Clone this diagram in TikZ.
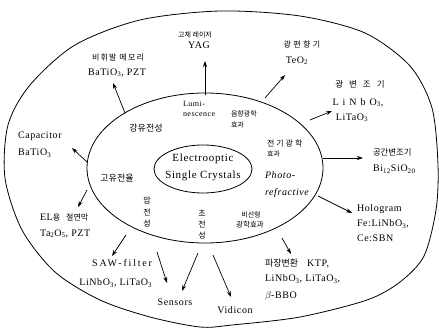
\documentclass[tikz,border=0pt]{standalone}
\usepackage{fontspec}
\setmainfont{Liberation Serif}[LetterSpace=6]
\newfontfamily\krfont{Noto Sans CJK KR}
\usetikzlibrary{arrows.meta}

\begin{document}
\begin{tikzpicture}[x=1pt,y=-1pt,
  every node/.style={inner sep=0pt, outer sep=0pt},
  en/.style={anchor=base, font=\fontsize{10}{12}\selectfont},
  enl/.style={en, anchor=base west},
  ko/.style={anchor=base, font=\krfont\fontsize{#1}{#1}\selectfont},
  ko/.default=8,
  ring/.style={line width=0.8pt},
  arr/.style={line width=0.7pt, -{Stealth[length=6pt,width=4pt]}}]
\useasboundingbox (0,0) rectangle (439,329);

% three nested rings
\draw[ring] plot[smooth cycle] coordinates {(220,11) (300,16) (365,33) (410,66) (432,108) (438,165) (436,210) (424,256) (400,282) (367,300) (300,317) (232,325) (200,327) (150,317) (100,300) (55,272) (22,230) (5,178) (8,125) (30,85) (75,45) (140,20)};
\draw[ring] (205,168) ellipse [x radius=118pt, y radius=75pt];
\draw[ring] (203,169) ellipse [x radius=49pt, y radius=24pt];

% core
\node[en, font=\fontsize{11}{13}\selectfont] (core1) at (203,161.5) {Electrooptic};
\node[en, font=\fontsize{11}{13}\selectfont] (core2) at (203,178.5) {Single Crystals};

% properties inside the middle ring
\node[ko=9] (ferro) at (146,131) {강유전성};
\node[ko=9] (hk) at (117,181) {고유전율};
\node[enl, font=\fontsize{8}{10}\selectfont] (lumi1) at (183,106.5) {Lumi-};
\node[enl, font=\fontsize{8}{10}\selectfont] (lumi2) at (183,116) {nescence};
\node[ko=7, anchor=base west] (ao1) at (231,116) {음향광학};
\node[ko=7, anchor=base west] (ao2) at (231,127) {효과};
\node[ko=8, anchor=base west] (eo1) at (267,146) {\addfontfeatures{LetterSpace=25}전기광학};
\node[ko=7, anchor=base west] (eo2) at (267,156) {효과};
\node[enl, font=\itshape\fontsize{10}{12}\selectfont] (pr1) at (265,178.5) {Photo-};
\node[enl, font=\itshape\fontsize{10}{12}\selectfont] (pr2) at (265,195.5) {refractive};
\node[ko=7] (nlo1) at (251,217) {비선형};
\node[ko=7.5] (nlo2) at (250,227) {광학효과};
\node[ko] (pz1) at (147,203) {압};
\node[ko] (pz2) at (147,215) {전};
\node[ko] (pz3) at (147,226) {성};
\node[ko] (py1) at (202,216) {초};
\node[ko] (py2) at (202,227) {전};
\node[ko] (py3) at (202,238) {성};

% applications in the outer ring
\node[ko=7] (yag1) at (195,38) {고체 레이저};
\node[en] (yag2) at (199,48.5) {YAG};
\node[ko=8] (mem1) at (118,61) {\addfontfeatures{LetterSpace=15}비휘발 메모리};
\node[en] (mem2) at (117,75.5) {BaTiO\textsubscript{3}, PZT};
\node[ko=8] (defl1) at (302,48) {\addfontfeatures{LetterSpace=30}광편향기};
\node[en] (defl2) at (297,63.5) {TeO\textsubscript{2}};
\node[ko=8.5] (mod1) at (360,88) {광\hspace{6pt}변\hspace{6pt}조\hspace{6pt}기};
\node[en] (mod2) at (358,105.5) {\addfontfeatures{LetterSpace=40}LiNbO\textsubscript{3},};
\node[en] (mod3) at (352,120.5) {LiTaO\textsubscript{3}};
\node[ko=8.4, anchor=base west] (slm1) at (373,155) {공간변조기};
\node[enl] (slm2) at (373,171.5) {Bi\textsubscript{12}SiO\textsubscript{20}};
\node[enl] (holo1) at (357,211.5) {Hologram};
\node[enl] (holo2) at (357,226.5) {Fe:LiNbO\textsubscript{3},};
\node[enl] (holo3) at (357,241.5) {Ce:SBN};
\node[enl] (shg1) at (265,266.5) {{\krfont\fontsize{9}{9}\selectfont 파장변환}\hspace{9pt}KTP,};
\node[enl] (shg2) at (265,281.5) {LiNbO\textsubscript{3}, LiTaO\textsubscript{3},};
\node[enl] (shg3) at (265,298.5) {$\beta$-BBO};
\node[en] (vid) at (235,313.5) {Vidicon};
\node[en] (sens) at (175,305.5) {Sensors};
\node[en, anchor=base east] (saw1) at (152,266.5) {\addfontfeatures{LetterSpace=18}SAW-filter};
\node[en, anchor=base east] (saw2) at (152,285.5) {LiNbO\textsubscript{3}, LiTaO\textsubscript{3}};
\node[enl] (el1) at (40,220.5) {EL{\krfont\fontsize{8}{8}\selectfont 용\hspace{6pt}절연막}};
\node[enl] (el2) at (40,236) {Ta\textsubscript{2}O\textsubscript{5}, PZT};
\node[enl] (cap1) at (18,138.5) {Capacitor};
\node[enl] (cap2) at (18,155.5) {BaTiO\textsubscript{3}};

% arrow ends
\coordinate (b-yag) at (205,95);   \coordinate (t-yag) at (205,61);
\coordinate (b-mem) at (125,113);  \coordinate (t-mem) at (113,83);
\coordinate (b-defl) at (265,98);  \coordinate (t-defl) at (285,75);
\coordinate (b-mod) at (310,120);  \coordinate (t-mod) at (332,111);
\coordinate (b-slm) at (323,158);  \coordinate (t-slm) at (363,158);
\coordinate (b-holo) at (318,196); \coordinate (t-holo) at (352,213);
\coordinate (b-shg) at (282,238);  \coordinate (t-shg) at (291,254);
\coordinate (b-vid) at (213,255);  \coordinate (t-vid) at (231,297);
\coordinate (b-sa) at (157,252);   \coordinate (t-sa) at (167,283);
\coordinate (b-sb) at (198,253);   \coordinate (t-sb) at (182,291);
\coordinate (b-saw) at (126,235);  \coordinate (t-saw) at (112,256);
\coordinate (b-el) at (87,190);    \coordinate (t-el) at (78,207);
\coordinate (b-cap) at (87,162);   \coordinate (t-cap) at (72,148);

\foreach \n in {yag,mem,defl,mod,slm,holo,shg,vid,sa,sb,saw,el,cap}
  \draw[arr] (b-\n) -- (t-\n);
\end{tikzpicture}
\end{document}
